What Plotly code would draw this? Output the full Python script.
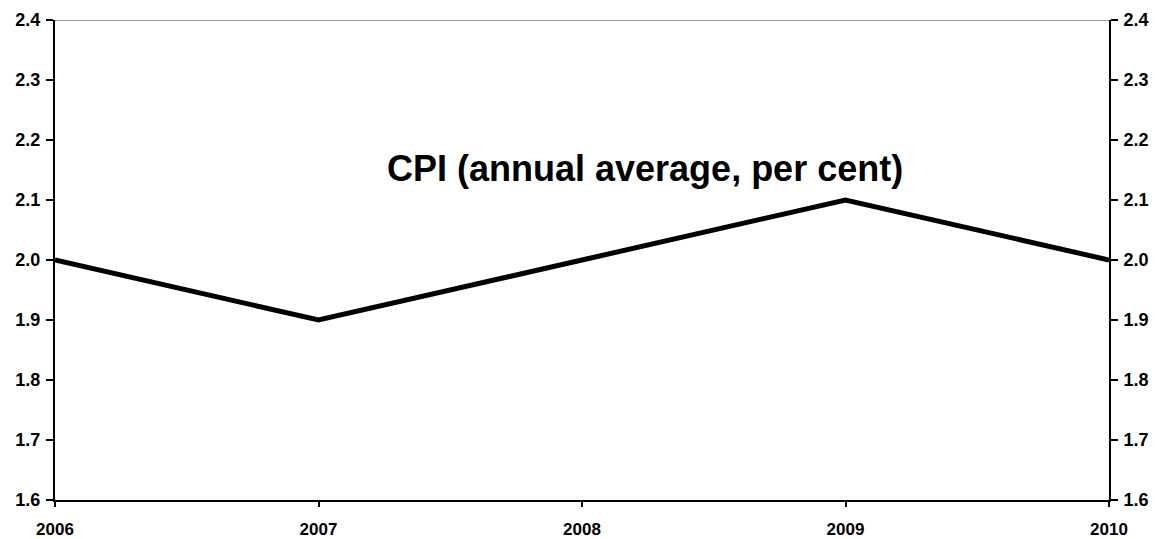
import plotly.graph_objects as go

years = [2006, 2007, 2008, 2009, 2010]
cpi = [2.0, 1.9, 2.0, 2.1, 2.0]
y_ticks = [1.6, 1.7, 1.8, 1.9, 2.0, 2.1, 2.2, 2.3, 2.4]
y_tick_labels = ["1.6", "1.7", "1.8", "1.9", "2.0", "2.1", "2.2", "2.3", "2.4"]
title_text = "CPI (annual average, per cent)"

FONT = "Liberation Sans, Arial, sans-serif"

fig = go.Figure()
fig.add_trace(go.Scatter(x=years, y=cpi, mode="lines",
                         line=dict(color="black", width=5), showlegend=False,
                         hoverinfo="x+y"))
fig.add_trace(go.Scatter(x=years, y=cpi, mode="lines", yaxis="y2",
                         line=dict(color="rgba(0,0,0,0)", width=0),
                         showlegend=False, hoverinfo="skip"))

yax_common = dict(range=[1.6, 2.4], tickvals=y_ticks, ticktext=y_tick_labels,
                  showgrid=False, zeroline=False, showline=True, automargin=False,
                  linecolor="black", linewidth=2, ticks="outside",
                  ticklen=7, tickwidth=2, tickcolor="black", ticklabelstandoff=2,
                  tickfont=dict(family=FONT, size=18, color="black", weight="bold"))

fig.update_layout(
    width=1163, height=539,
    margin=dict(l=47, r=62, t=12, b=47),
    paper_bgcolor="white", plot_bgcolor="white",
    xaxis=dict(range=[2006, 2010], tickvals=years, ticktext=[str(y) for y in years],
               showgrid=False, zeroline=False, showline=True, linecolor="black",
               linewidth=2, ticks="outside", ticklen=5, tickwidth=1.5,
               tickcolor="black", automargin=False, ticklabelstandoff=8,
               tickfont=dict(family=FONT, size=17, color="black", weight="bold")),
    yaxis=dict(side="left", **yax_common),
    yaxis2=dict(side="right", overlaying="y", **yax_common),
    annotations=[dict(x=2008.24, y=2.153, xref="x", yref="y", text=title_text,
                      showarrow=False, xanchor="center", yanchor="middle",
                      font=dict(family=FONT, size=36, color="black", weight="bold"))],
    shapes=[dict(type="line", xref="paper", yref="y", x0=0, x1=1, y0=2.4, y1=2.4,
                 line=dict(color="#999999", width=2))],
)

fig.write_html("out.html")
